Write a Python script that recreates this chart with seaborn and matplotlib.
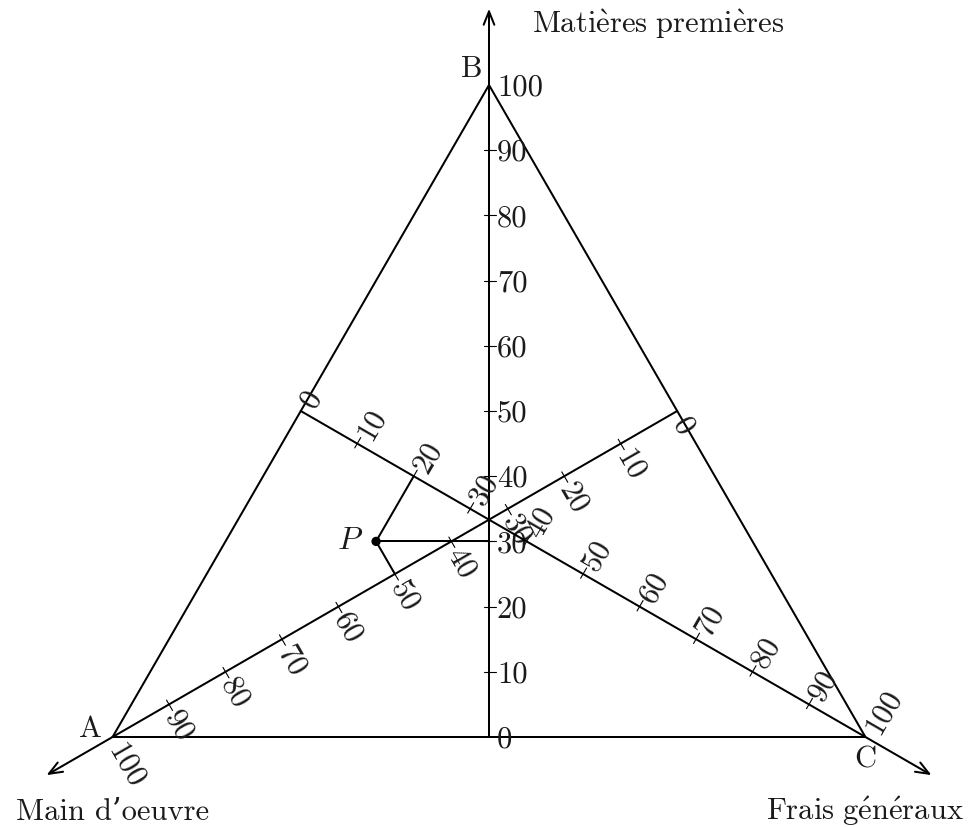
import numpy as np
import pandas as pd
import matplotlib
matplotlib.use("Agg")
import matplotlib.pyplot as plt
import seaborn as sns

# ---------------- data ----------------
vertex_labels = ["A", "B", "C"]
axis_titles = ["Main d'oeuvre", "Matières premières", "Frais généraux"]
tick_values = [0, 10, 20, 30, 40, 50, 60, 70, 80, 90, 100]
point_label = "P"
main_oeuvre = [50]      # component A
matieres = [30]         # component B
frais = [20]            # component C

# ---------------- style ----------------
sns.set_theme(style="white")
plt.rcParams["font.family"] = ["cmr10", "DejaVu Serif"]
plt.rcParams["mathtext.fontset"] = "cm"
plt.rcParams["axes.formatter.use_mathtext"] = True
FS = 22
LW = 1.45
TXT = "#1a1a1a"


def tex_text(s):
    """Render accented French words with Computer Modern accents."""
    if "è" in s or "é" in s:
        body = (s.replace(" ", r"\ ").replace("è", r"\grave{e}")
                 .replace("é", r"\acute{e}"))
        return r"$\mathrm{" + body + "}$"
    return s.replace("'", "\u2019")


W, H = 971, 827
fig = plt.figure(figsize=(W / 100, H / 100), dpi=100)
ax = fig.add_axes([0, 0, 1, 1])
scale = 6.52                      # pixels per data unit
ox, oy = 489, 737                 # pixel position of data origin
ax.set_xlim(-ox / scale, (W - ox) / scale)
ax.set_ylim(-(H - oy) / scale, oy / scale)
ax.set_aspect("equal")
ax.axis("off")
px = 1.0 / scale

# triangle geometry: altitude = 100 units
side = 200 / np.sqrt(3)
A = np.array([-side / 2, 0.0])
B = np.array([0.0, 100.0])
C = np.array([side / 2, 0.0])


def tern(a, b, c):
    return (a * A + b * B + c * C) / 100.0


mAB, mBC, mAC = (A + B) / 2, (B + C) / 2, (A + C) / 2

# triangle
tri = np.array([A, B, C, A])
ax.plot(tri[:, 0], tri[:, 1], color="black", lw=LW, solid_joinstyle="miter")

# three graduated axes: (start = value 0, end = value 100, label angle)
axes_def = [
    (mBC, A, -60.0),   # Main d'oeuvre
    (mAC, B, 0.0),     # Matières premières
    (mAB, C, 60.0),    # Frais généraux
]
ext = 11.7
for start, end, ang in axes_def:
    d = (end - start) / np.linalg.norm(end - start)
    tip = end + ext * d
    ax.annotate("", xy=tip, xytext=start,
                arrowprops=dict(arrowstyle="->,head_length=0.8,head_width=0.32",
                                lw=LW, color="black", shrinkA=0, shrinkB=0,
                                mutation_scale=12))
    t = np.array([np.cos(np.radians(ang)), np.sin(np.radians(ang))])
    for v in tick_values:
        p = start + (end - start) * v / 100.0
        if 0 < v < 100:
            q0, q1 = p - 5 * px * t, p + 7 * px * t
            ax.plot([q0[0], q1[0]], [q0[1], q1[1]], color="black", lw=0.8)
        lp = p + 8 * px * t
        ax.text(lp[0], lp[1], str(v), rotation=ang, rotation_mode="anchor",
                ha="left", va="center_baseline", fontsize=FS, color=TXT)

# vertex labels
ax.text(A[0] - 11 * px, A[1], vertex_labels[0], ha="right", va="baseline",
        fontsize=FS, color=TXT)
ax.text(B[0] - 6 * px, B[1] + 8 * px, vertex_labels[1], ha="right", va="baseline",
        fontsize=FS, color=TXT)
ax.text(C[0], C[1] - 9 * px, vertex_labels[2], ha="center", va="top",
        fontsize=FS, color=TXT)

# axis titles
ax.text(A[0], A[1] - 83 * px, tex_text(axis_titles[0]), ha="center",
        va="baseline", fontsize=FS, color=TXT)
ax.text(B[0] + 43 * px, B[1] + 52 * px, tex_text(axis_titles[1]), ha="left",
        va="baseline", fontsize=FS, color=TXT)
ax.text(C[0], C[1] - 83 * px, tex_text(axis_titles[2]), ha="center",
        va="baseline", fontsize=FS, color=TXT)

# point P and its projections on the three axes
df = pd.DataFrame({"a": main_oeuvre, "b": matieres, "c": frais})
for _, r in df.iterrows():
    P = tern(r.a, r.b, r.c)
    feets = [
        mBC + (A - mBC) * r.a / 100.0,
        mAC + (B - mAC) * r.b / 100.0,
        mAB + (C - mAB) * r.c / 100.0,
    ]
    for f in feets:
        ax.plot([P[0], f[0]], [P[1], f[1]], color="black", lw=LW)
    sns.scatterplot(x=[P[0]], y=[P[1]], ax=ax, color="black", s=45,
                    edgecolor="none", zorder=5, legend=False)
    ax.text(P[0] - 13 * px, P[1], "$" + point_label + "$", ha="right",
            va="center", fontsize=FS + 1, color=TXT)

fig.savefig("out.png", dpi=100)
